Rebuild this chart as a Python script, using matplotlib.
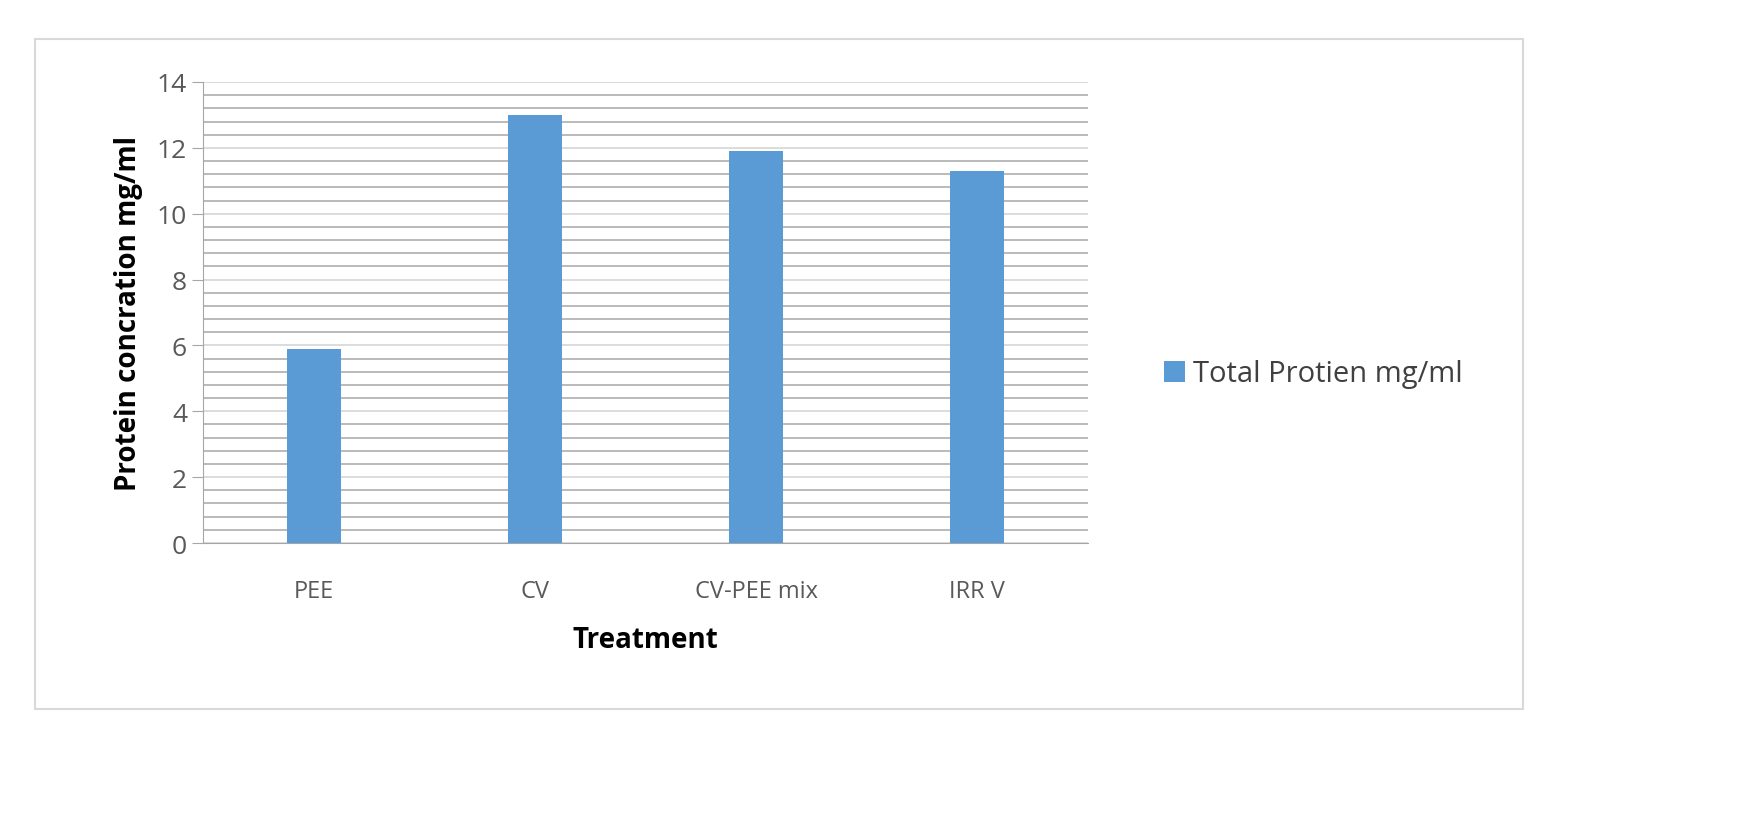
import matplotlib
matplotlib.use("Agg")
import matplotlib.pyplot as plt
from matplotlib.patches import Rectangle
import numpy as np

categories = ["PEE", "CV", "CV-PEE mix", "IRR V"]
values = [5.9, 13.0, 11.9, 11.3]

plt.rcParams['font.family'] = ['Open Sans', 'DejaVu Sans']
W, H = 1749, 820
fig = plt.figure(figsize=(W/100, H/100), dpi=100)
fig.patches.append(Rectangle((35/W, 1-710/H), (1523-35)/W, (710-40)/H, transform=fig.transFigure,
                             fill=False, edgecolor='#d9d9d9', linewidth=1.5))
ax = fig.add_axes([203/W, 1-544/H, (1088-203)/W, (544-83)/H])
x = np.arange(len(categories))
ax.bar(x, values, width=0.245, color='#5b9bd5', zorder=3, label='Total Protien mg/ml')
ax.set_xlim(-0.5, 3.5)
ax.set_ylim(0, 14)
ax.set_yticks(np.arange(0, 15, 2))
ax.set_yticks(np.arange(0, 14.01, 0.4), minor=True)
ax.tick_params(axis='y', which='minor', length=0)
ax.tick_params(axis='y', which='major', length=8, color='#a6a6a6', labelsize=19, labelcolor='#595959')
ax.tick_params(axis='x', length=0, labelsize=17, labelcolor='#595959', pad=26)
ax.set_xticks(x)
ax.set_xticklabels(categories)
ax.grid(axis='y', which='minor', color='#b4b4b4', linewidth=1.3, zorder=0)
ax.grid(axis='y', which='major', color='#d9d9d9', linewidth=1.3, zorder=0)
for s in ['top', 'right']:
    ax.spines[s].set_visible(False)
ax.spines['left'].set_color('#a6a6a6')
ax.spines['bottom'].set_color('#a6a6a6')
ax.set_ylabel('Protein concration mg/ml', fontsize=20, fontweight='bold', labelpad=10)
ax.set_xlabel('Treatment', fontsize=20, fontweight='bold', labelpad=16)
fig.legend(loc='center left', bbox_to_anchor=(1138/W, 1-375/H), frameon=False, fontsize=21,
           handlelength=0.7, handleheight=0.7, handletextpad=0.3, labelcolor='#404040')
fig.savefig('out.png', dpi=100)
